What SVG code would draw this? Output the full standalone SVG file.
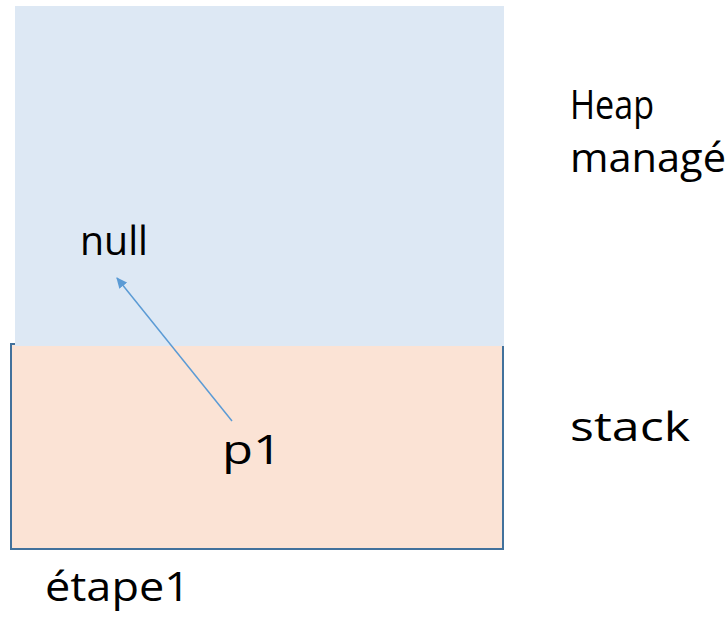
<svg xmlns="http://www.w3.org/2000/svg" width="728" height="628" viewBox="0 0 728 628">
  <style>
    .lbl { font-family: "Open Sans", "Liberation Sans", sans-serif; font-size: 40px; fill: #000000; }
    .conn { stroke: #5B9BD5; stroke-width: 1.5; fill: none; }
  </style>
  <defs>
    <marker id="arrow" viewBox="0 0 10 10" refX="9" refY="5" markerWidth="11" markerHeight="11" orient="auto" markerUnits="userSpaceOnUse">
      <path d="M0,0.5 L10,5 L0,9.5 z" fill="#5B9BD5"/>
    </marker>
  </defs>
  <rect width="728" height="628" fill="#FFFFFF"/>
  <g id="stack">
    <rect x="11" y="344" width="492" height="205" fill="#FBE3D5" stroke="#41719C" stroke-width="2"/>
  </g>
  <g id="heap">
    <rect x="15" y="6" width="489" height="340" fill="#DDE8F4"/>
  </g>
  <g id="labels">
    <text class="lbl" x="570" y="119" textLength="84" lengthAdjust="spacingAndGlyphs">Heap</text>
    <text class="lbl" x="570" y="172" textLength="156" lengthAdjust="spacingAndGlyphs">managé</text>
    <text class="lbl" x="570" y="441" textLength="120" lengthAdjust="spacingAndGlyphs">stack</text>
    <text class="lbl" x="45" y="601" textLength="145" lengthAdjust="spacingAndGlyphs">étape1</text>
  </g>
  <g id="null-node">
    <text class="lbl" x="80" y="255" textLength="68" lengthAdjust="spacingAndGlyphs">null</text>
  </g>
  <g id="p1-node">
    <text class="lbl" x="222" y="464" textLength="60" lengthAdjust="spacingAndGlyphs">p1</text>
  </g>
  <g id="connectors">
    <line class="conn" x1="232" y1="421" x2="117" y2="278" marker-end="url(#arrow)"/>
  </g>
</svg>
